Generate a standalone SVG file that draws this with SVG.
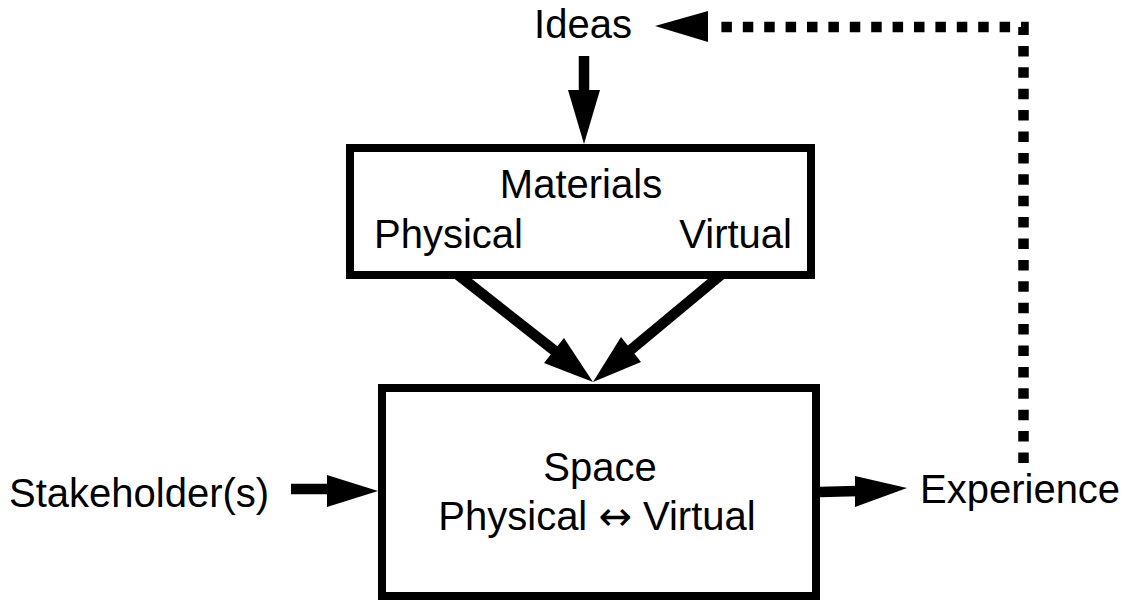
<svg xmlns="http://www.w3.org/2000/svg" width="1128" height="600" viewBox="0 0 1128 600">
<style>
text{font-family:"Liberation Sans",Arial,"DejaVu Sans",sans-serif;font-size:40px;fill:#000}
.sym{font-family:"DejaVu Sans",sans-serif}
.box{fill:#fff;stroke:#000;stroke-width:8}
.shaft{stroke:#000;stroke-width:10.5;fill:none}
.head{fill:#000;stroke:none}
.dots{stroke:#000;stroke-width:10.5;fill:none;stroke-dasharray:10.5 10.9;stroke-linejoin:miter}
</style>
<rect width="1128" height="600" fill="#fff"/>
<g id="connectors">
  <g id="e-ideas-materials">
    <line class="shaft" x1="584" y1="56" x2="584" y2="92"/>
    <polygon class="head" points="568,90 600,90 584,144"/>
  </g>
  <g id="e-physical-space">
    <line class="shaft" x1="457" y1="274" x2="560" y2="355"/>
    <polygon class="head" points="544,363 564,338 593,382"/>
  </g>
  <g id="e-virtual-space">
    <line class="shaft" x1="722" y1="274" x2="627" y2="353"/>
    <polygon class="head" points="641,362 621,337 593,382"/>
  </g>
  <g id="e-stakeholder-space">
    <line class="shaft" x1="291" y1="489" x2="330" y2="489"/>
    <polygon class="head" points="327,475 378,491 327,507"/>
  </g>
  <g id="e-space-experience">
    <line class="shaft" x1="820" y1="492" x2="858" y2="491"/>
    <polygon class="head" points="855,476 907,488 855,507"/>
  </g>
  <g id="e-experience-ideas">
    <path class="dots" d="M1023.5 463 V27 H716"/>
    <polygon class="head" points="655,26 708,11 708,42"/>
  </g>
</g>
<g id="ideas">
  <text x="583" y="38" text-anchor="middle">Ideas</text>
</g>
<g id="materials">
  <rect class="box" x="350" y="148" width="461" height="127"/>
  <text x="581" y="198" text-anchor="middle">Materials</text>
  <text x="374" y="248">Physical</text>
  <text x="792" y="248" text-anchor="end">Virtual</text>
</g>
<g id="space">
  <rect class="box" x="382" y="388" width="434" height="208"/>
  <text x="600" y="481" text-anchor="middle">Space</text>
  <text x="597" y="530" text-anchor="middle">Physical <tspan class="sym">↔</tspan> Virtual</text>
</g>
<g id="stakeholders">
  <text x="9" y="507">Stakeholder(s)</text>
</g>
<g id="experience">
  <text x="920" y="503">Experience</text>
</g>
</svg>
